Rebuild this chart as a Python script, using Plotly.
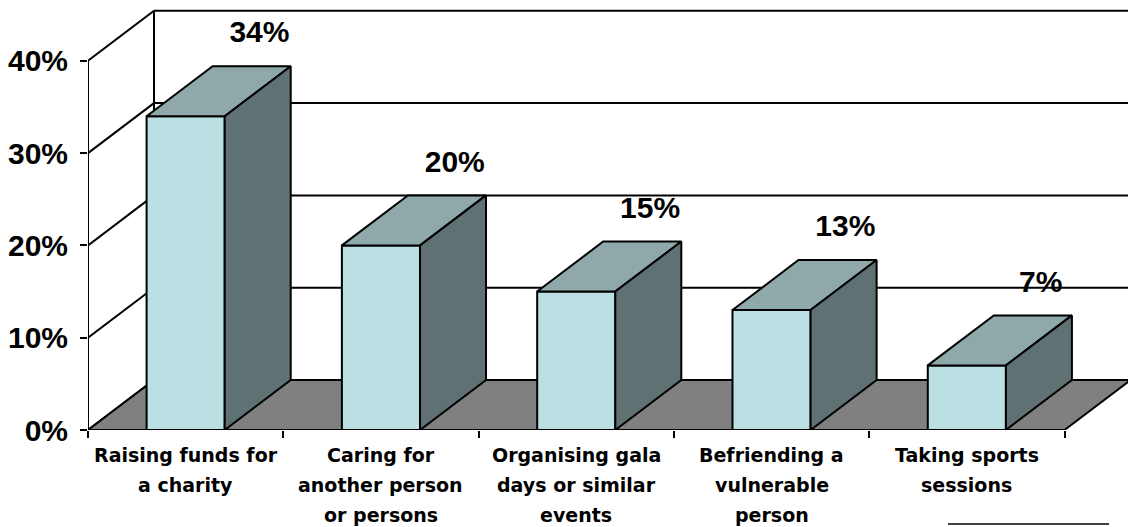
import plotly.graph_objects as go

# Chart data
categories = [
    "Raising funds for<br>a charity",
    "Caring for<br>another person<br>or persons",
    "Organising gala<br>days or similar<br>events",
    "Befriending a<br>vulnerable<br>person",
    "Taking sports<br>sessions",
]
values = [34, 20, 15, 13, 7]
y_tick_values = [0, 10, 20, 30, 40]
y_tick_labels = ["0%", "10%", "20%", "30%", "40%"]

# Figure geometry (pixel scale of the axes)
W, H = 1128, 527
M_L, M_B = 88, 97
PLOT_H = H - M_B
PX_PER_CAT = 195.3
PX_PER_PCT = 9.23
X_MAX = (W - M_L) / PX_PER_CAT
Y_MAX = PLOT_H / PX_PER_PCT

# Oblique depth of the 3-D box (in axis units)
DX = 66 / PX_PER_CAT
DY = 50 / PX_PER_PCT
BAR_LO, BAR_HI = 0.3, 0.7

FRONT = "#BBE0E3"
TOP = "#8FA9AB"
SIDE = "#5F7173"
FLOOR = "#808080"
FONT = "Liberation Sans, Arial, sans-serif"
CAT_FONT = "DejaVu Sans, Verdana, sans-serif"

n = len(categories)
fig = go.Figure()


def poly(xs, ys, fill=None, width=2):
    if fill is not None:
        xs = list(xs) + [xs[0]]
        ys = list(ys) + [ys[0]]
    fig.add_trace(go.Scatter(
        x=xs, y=ys, mode="lines",
        fill="toself" if fill else None,
        fillcolor=fill,
        line=dict(color="black", width=width),
        hoverinfo="skip", showlegend=False,
    ))


# Back wall gridlines and left wall edges
top_val = y_tick_values[-1]
for t in y_tick_values:
    poly([DX, n + DX + 0.1], [t + DY, t + DY])
    poly([0, DX], [t, t + DY])
poly([DX, DX], [DY, top_val + DY])
poly([0, 0], [0, top_val])

# Floor
poly([0, n, n + DX, DX], [0, 0, DY, DY], fill=FLOOR)

# Bars: front face, top, right side
for i, v in enumerate(values):
    x0, x1 = i + BAR_LO, i + BAR_HI
    poly([x0, x1, x1, x0], [0, 0, v, v], fill=FRONT)
    poly([x0, x1, x1 + DX, x0 + DX], [v, v, v + DY, v + DY], fill=TOP)
    poly([x1, x1 + DX, x1 + DX, x1], [0, DY, v + DY, v], fill=SIDE)

# Value labels
fig.add_trace(go.Scatter(
    x=[i + 0.5 + DX + 0.04 for i in range(n)],
    y=[v + DY + 3.4 for v in values],
    mode="text",
    text=[f"{v}%" for v in values],
    textposition="middle center",
    textfont=dict(family=FONT, size=30, color="black", weight="bold"),
    cliponaxis=False, hoverinfo="skip", showlegend=False,
))

# Category labels below the axis, one annotation per line
LINE_GAP_PX = 30
FIRST_LINE_PX = 25
for i, cat in enumerate(categories):
    for j, line in enumerate(cat.split("<br>")):
        fig.add_annotation(
            x=i + 0.5, xref="x",
            y=-(FIRST_LINE_PX + j * LINE_GAP_PX) / PLOT_H, yref="paper",
            text=line, showarrow=False,
            xanchor="center", yanchor="middle",
            font=dict(family=CAT_FONT, size=19, color="black", weight="bold"),
        )

# Short rule at the lower right
fig.add_shape(
    type="line", xref="paper", yref="paper",
    x0=(948 - M_L) / (W - M_L), x1=(1109 - M_L) / (W - M_L),
    y0=-94 / PLOT_H, y1=-94 / PLOT_H,
    line=dict(color="black", width=1.5),
)

fig.update_layout(
    width=W, height=H,
    margin=dict(l=M_L, r=0, t=0, b=M_B),
    paper_bgcolor="white", plot_bgcolor="white",
    showlegend=False,
    xaxis=dict(
        range=[0, X_MAX], showgrid=False, zeroline=False, showline=False,
        tickmode="array", tickvals=list(range(n + 1)), showticklabels=False,
        ticks="outside", ticklen=7, tickwidth=2, tickcolor="black",
        fixedrange=True,
    ),
    yaxis=dict(
        range=[0, Y_MAX], showgrid=False, zeroline=False, showline=False,
        tickmode="array", tickvals=y_tick_values, ticktext=y_tick_labels,
        ticks="outside", ticklen=7, tickwidth=2, tickcolor="black",
        ticklabelstandoff=6,
        tickfont=dict(family=FONT, size=30, color="black", weight="bold"),
        fixedrange=True,
    ),
)

fig.write_html("out.html")
